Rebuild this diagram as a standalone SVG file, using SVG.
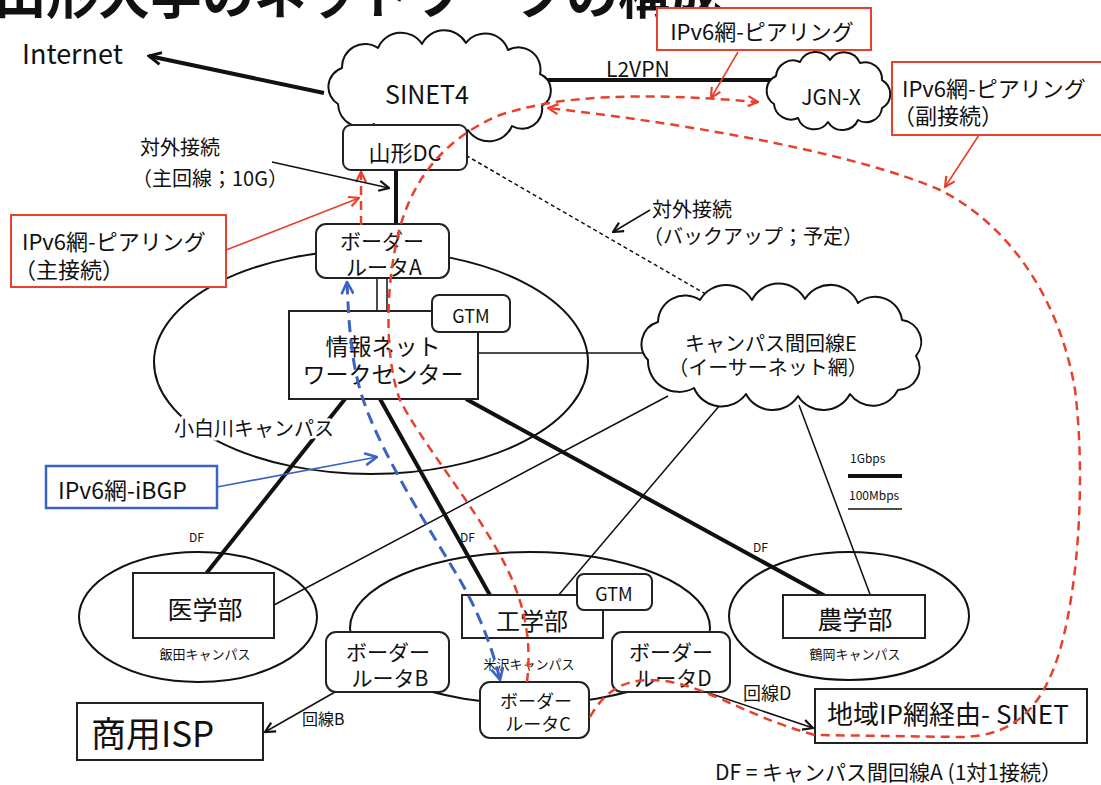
<svg xmlns="http://www.w3.org/2000/svg" width="1101" height="785" viewBox="0 0 1101 785">
<style>
text { font-family: "Noto Sans CJK JP", "Noto Sans", sans-serif; fill: #111; }
.c { text-anchor: middle; }
.box { fill: #fff; stroke: #222; stroke-width: 2; }
.thick { stroke: #111; stroke-width: 4; fill: none; }
.thin { stroke: #111; stroke-width: 1.5; fill: none; }
.camp { fill: none; stroke: #111; stroke-width: 2; }
.cloud { fill: #fff; stroke: #111; stroke-width: 2; stroke-linejoin: round; }
.rdash { stroke: #e8402c; stroke-width: 2.5; fill: none; stroke-dasharray: 9 6; }
.bdash { stroke: #3b62c4; stroke-width: 3; fill: none; stroke-dasharray: 12 7; }
.rbox { fill: #fff; stroke: #e8402c; stroke-width: 2; }
.bbox { fill: #fff; stroke: #3b62c4; stroke-width: 2.5; }
.halo { stroke: #fff; stroke-width: 6; paint-order: stroke; stroke-linejoin: round; }
</style>
<defs>
<marker id="ahK" viewBox="0 0 12 12" markerWidth="12" markerHeight="12" refX="11" refY="6" orient="auto-start-reverse" markerUnits="userSpaceOnUse"><path d="M1,1 L11,6 L1,11" fill="none" stroke="#111" stroke-width="2.2"/></marker>
<marker id="ahKB" viewBox="0 0 16 16" markerWidth="16" markerHeight="16" refX="14" refY="8" orient="auto-start-reverse" markerUnits="userSpaceOnUse"><path d="M2,2 L14,8 L2,14" fill="none" stroke="#111" stroke-width="3"/></marker>
<marker id="ahR" viewBox="0 0 12 12" markerWidth="12" markerHeight="12" refX="11" refY="6" orient="auto-start-reverse" markerUnits="userSpaceOnUse"><path d="M1,1 L11,6 L1,11" fill="none" stroke="#e8402c" stroke-width="2.2"/></marker>
<marker id="ahB" viewBox="0 0 14 14" markerWidth="14" markerHeight="14" refX="13" refY="7" orient="auto-start-reverse" markerUnits="userSpaceOnUse"><path d="M1,1 L13,7 L1,13" fill="none" stroke="#3b62c4" stroke-width="2.6"/></marker>
</defs>
<rect width="1101" height="785" fill="#fff"/>

<g id="title"><text x="-6" y="14" font-size="52" font-weight="bold">山形大学のネットワークの構成</text></g>

<g id="campus-ellipses">
<ellipse id="kojirakawa-area" class="camp" cx="371" cy="362" rx="217" ry="112"/>
<ellipse id="iida-area" class="camp" cx="198" cy="617" rx="119" ry="65"/>
<ellipse id="yonezawa-area" class="camp" cx="530" cy="628" rx="180" ry="76"/>
<ellipse id="tsuruoka-area" class="camp" cx="849" cy="616" rx="120" ry="64"/>
</g>

<g id="connectors">
<line class="thick" x1="324" y1="93" x2="149" y2="56" stroke-width="3.5" marker-end="url(#ahKB)"/>
<line class="thick" x1="540" y1="80" x2="775" y2="80" stroke-width="3.5"/>
<line class="thick" x1="396" y1="165" x2="396" y2="228"/>
<line class="thin" x1="377" y1="276" x2="377" y2="313" stroke-width="2"/>
<line class="thin" x1="387" y1="276" x2="387" y2="313" stroke-width="2"/>
<line class="thin" x1="460" y1="152" x2="716" y2="300" stroke-width="1.3" stroke-dasharray="4 3"/>
<line class="thin" x1="470" y1="353" x2="650" y2="353"/>
<line class="thick" x1="345" y1="399" x2="205" y2="575"/>
<line class="thick" x1="380" y1="399" x2="491" y2="597"/>
<line class="thick" x1="466" y1="399" x2="827" y2="597"/>
<line class="thin" x1="274" y1="605" x2="668" y2="396"/>
<line class="thin" x1="557" y1="597" x2="720" y2="405"/>
<line class="thin" x1="871" y1="597" x2="799" y2="405"/>
<line class="thin" x1="335" y1="692" x2="265" y2="732" marker-end="url(#ahK)"/>
<line class="thin" x1="700" y1="690" x2="813" y2="728" marker-end="url(#ahK)"/>
</g>

<g id="internet"><text x="22" y="64" font-size="27">Internet</text></g>

<g id="sinet4">
<path class="cloud" d="M338,104 A20,20 0 0 1 342,68 A23,23 0 0 1 378,48 A25,25 0 0 1 422,44 A25,25 0 0 1 466,43 A24,24 0 0 1 508,50 A22,22 0 0 1 540,74 A18,18 0 0 1 542,106 A20,20 0 0 1 512,126 A25,25 0 0 1 468,130 A27,27 0 0 1 420,128 A26,26 0 0 1 374,124 A24,24 0 0 1 338,104 Z"/>
<text class="c" x="427" y="104" font-size="25">SINET4</text>
</g>

<g id="jgnx">
<path class="cloud" d="M774,104 A16,16 0 0 1 776,76 A17,17 0 0 1 800,62 A17,17 0 0 1 830,60 A17,17 0 0 1 860,63 A17,17 0 0 1 882,80 A16,16 0 0 1 882,108 A16,16 0 0 1 858,120 A17,17 0 0 1 828,122 A17,17 0 0 1 798,118 A17,17 0 0 1 774,104 Z"/>
<text class="c" x="831" y="105" font-size="21">JGN-X</text>
</g>

<g id="l2vpn-label"><text x="606" y="77" font-size="21">L2VPN</text></g>

<g id="yamagata-dc">
<rect class="box" x="343" y="125" width="124" height="45" rx="8"/>
<text class="c" x="405" y="161" font-size="22">山形DC</text>
</g>

<g id="border-router-a">
<rect class="box" x="316" y="224" width="133" height="54" rx="10"/>
<text class="c" x="382" y="249" font-size="21">ボーダー</text>
<text class="c" x="384" y="275" font-size="21">ルータA</text>
</g>

<g id="nwc">
<rect class="box" x="289" y="311" width="189" height="88"/>
<text class="c" x="383" y="355" font-size="23">情報ネット</text>
<text class="c" x="383" y="383" font-size="23">ワークセンター</text>
</g>
<g id="gtm-kojirakawa">
<rect class="box" x="432" y="295" width="78" height="37" rx="7"/>
<text class="c" x="471" y="323" font-size="18">GTM</text>
</g>

<g id="campus-e">
<path class="cloud" d="M648,360 A23,23 0 0 1 658,322 A27,27 0 0 1 700,300 A30,30 0 0 1 752,300 A30,30 0 0 1 805,299 A30,30 0 0 1 858,303 A27,27 0 0 1 902,320 A22,22 0 0 1 916,356 A22,22 0 0 1 898,390 A28,28 0 0 1 850,394 A30,30 0 0 1 798,396 A30,30 0 0 1 746,394 A30,30 0 0 1 694,388 A31,31 0 0 1 648,360 Z"/>
<text class="c" x="771" y="351" font-size="20">キャンパス間回線E</text>
<text class="c" x="768" y="375" font-size="20">（イーサーネット網）</text>
</g>

<g id="kojirakawa-label"><text class="halo" x="174" y="436" font-size="20">小白川キャンパス</text></g>

<g id="igaku">
<rect class="box" x="133" y="573" width="141" height="65"/>
<text class="c" x="205" y="619" font-size="25">医学部</text>
<text class="c" x="205" y="659" font-size="13">飯田キャンパス</text>
</g>

<g id="kogaku">
<rect class="box" x="462" y="595" width="141" height="43"/>
<text class="c" x="532" y="630" font-size="24">工学部</text>
<text class="c" x="529" y="669" font-size="13">米沢キャンパス</text>
</g>
<g id="gtm-yonezawa">
<rect class="box" x="577" y="574" width="75" height="36" rx="7"/>
<text class="c" x="614" y="601" font-size="18">GTM</text>
</g>

<g id="nogaku">
<rect class="box" x="783" y="595" width="142" height="43"/>
<text class="c" x="855" y="629" font-size="25">農学部</text>
<text class="c" x="855" y="659" font-size="13">鶴岡キャンパス</text>
</g>

<g id="border-router-b">
<rect class="box" x="326" y="632" width="123" height="60" rx="10"/>
<text class="c" x="388" y="660" font-size="21">ボーダー</text>
<text class="c" x="390" y="686" font-size="21">ルータB</text>
</g>
<g id="border-router-c">
<rect class="box" x="480" y="682" width="109" height="56" rx="10"/>
<text class="c" x="536" y="708" font-size="18">ボーダー</text>
<text class="c" x="538" y="731" font-size="18">ルータC</text>
</g>
<g id="border-router-d">
<rect class="box" x="612" y="632" width="118" height="60" rx="10"/>
<text class="c" x="671" y="660" font-size="21">ボーダー</text>
<text class="c" x="673" y="686" font-size="21">ルータD</text>
</g>

<g id="commercial-isp">
<rect class="box" x="77" y="703" width="186" height="57"/>
<text x="91" y="747" font-size="35">商用ISP</text>
</g>
<g id="regional-ip">
<rect class="box" x="815" y="689" width="272" height="54"/>
<text x="827" y="724" font-size="26">地域IP網経由- SINET</text>
</g>

<g id="labels">
<text x="302" y="725" font-size="16">回線B</text>
<text x="743" y="700" font-size="18">回線D</text>
<text x="189" y="542" font-size="12">DF</text>
<text x="460" y="542" font-size="12">DF</text>
<text x="753" y="552" font-size="12">DF</text>
<text x="715" y="780" font-size="21">DF = キャンパス間回線A (1対1接続）</text>
<text x="140" y="155" font-size="20">対外接続</text>
<text x="132" y="186" font-size="20">（主回線；10G）</text>
<text x="652" y="217" font-size="20">対外接続</text>
<text x="643" y="244" font-size="20">（バックアップ；予定）</text>
</g>

<g id="legend">
<text x="850" y="463" font-size="12">1Gbps</text>
<line class="thick" x1="848" y1="476" x2="902" y2="476"/>
<text x="849" y="500" font-size="12">100Mbps</text>
<line class="thin" x1="848" y1="509" x2="902" y2="509"/>
</g>

<g id="peering-paths">
<path class="rdash" d="M361,225 L361,172" marker-end="url(#ahR)"/>
<path class="rdash" d="M527,682 C532,640 525,600 500,555 C470,500 420,440 400,400 C385,360 385,290 398,235 C410,185 440,140 500,115 C560,95 640,92 758,102" marker-end="url(#ahR)"/>
<path class="rdash" d="M590,717 C605,690 625,680 650,680 C700,680 740,715 815,735 L960,737 C1020,737 1045,700 1060,650 C1080,580 1085,470 1075,390 C1060,300 1010,225 940,190 C860,155 700,125 548,108" marker-end="url(#ahR)"/>
<path class="bdash" d="M347,282 C349,330 352,370 365,405 C385,460 430,530 460,580 C480,615 493,650 500,680" marker-start="url(#ahB)" marker-end="url(#ahB)"/>
</g>

<g id="annotation-arrows">
<line class="thin" x1="272" y1="162" x2="389" y2="188" marker-end="url(#ahK)"/>
<line class="thin" x1="650" y1="210" x2="613" y2="232" stroke-width="2" marker-end="url(#ahK)"/>
<line x1="226" y1="250" x2="359" y2="198" stroke="#e8402c" stroke-width="1.6" marker-end="url(#ahR)"/>
<line x1="738" y1="52" x2="711" y2="98" stroke="#e8402c" stroke-width="1.6" marker-end="url(#ahR)"/>
<line x1="979" y1="135" x2="945" y2="187" stroke="#e8402c" stroke-width="1.6" marker-end="url(#ahR)"/>
<line x1="217" y1="487" x2="377" y2="457" stroke="#3b62c4" stroke-width="1.6" marker-end="url(#ahB)"/>
</g>

<g id="note-peering-main">
<rect class="rbox" x="11" y="215" width="215" height="72"/>
<text x="22" y="250" font-size="22">IPv6網-ピアリング</text>
<text x="14" y="278" font-size="22">（主接続）</text>
</g>
<g id="note-peering-jgn">
<rect class="rbox" x="657" y="8" width="214" height="42"/>
<text class="c" x="762" y="40" font-size="22">IPv6網-ピアリング</text>
</g>
<g id="note-peering-sub">
<rect class="rbox" x="892" y="62" width="210" height="73"/>
<text x="902" y="97" font-size="22">IPv6網-ピアリング</text>
<text x="893" y="124" font-size="22">（副接続）</text>
</g>
<g id="note-ibgp">
<rect class="bbox" x="46" y="466" width="171" height="42"/>
<text x="58" y="499" font-size="23">IPv6網-iBGP</text>
</g>
</svg>
